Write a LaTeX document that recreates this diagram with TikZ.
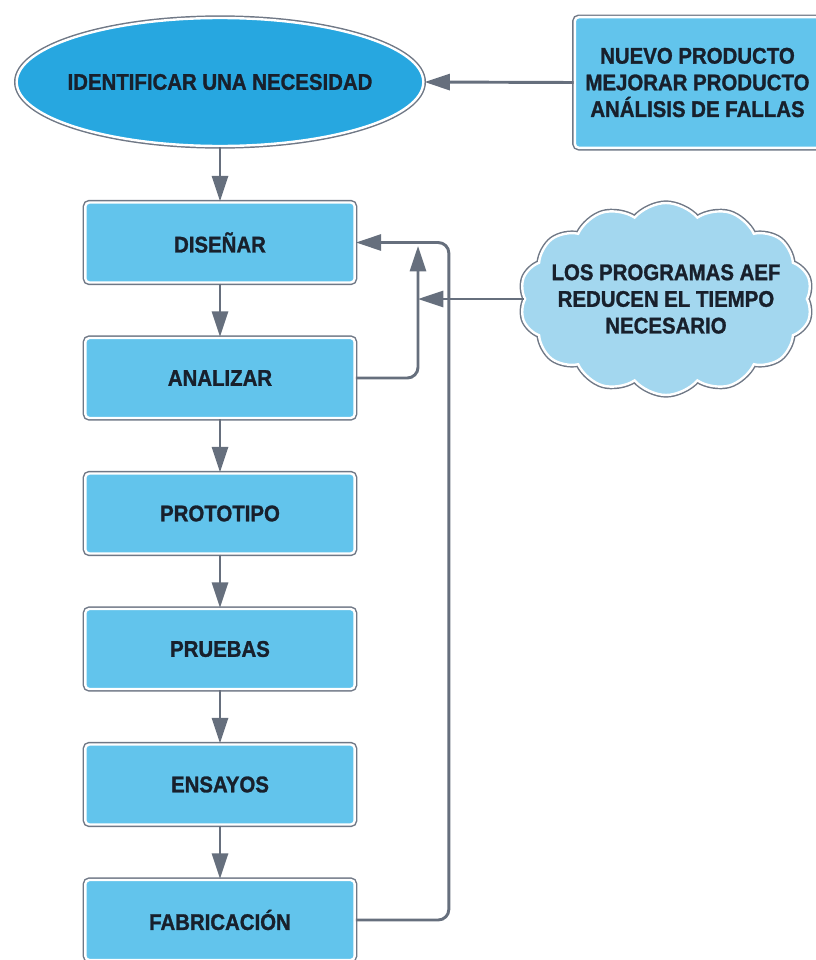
\documentclass[tikz,border=0pt]{standalone}
\usepackage{fontspec}
\setmainfont{Liberation Sans}[FakeStretch=0.9]
\newfontfamily\rotulo{Liberation Sans Bold}[FakeStretch=0.9, FakeBold=1.2]
\usetikzlibrary{arrows.meta,shapes.geometric,shapes.symbols}

\definecolor{cajaazul}{HTML}{62C4EC}
\definecolor{elipseazul}{HTML}{27A7E0}
\definecolor{nubeazul}{HTML}{A3D7EF}
\definecolor{borde}{HTML}{6F7886}
\definecolor{flechagris}{HTML}{666F7D}
\definecolor{texto}{HTML}{18202C}

\tikzset{
  marco/.style={preaction={draw=borde, line width=4pt}, draw=white, line width=1.8pt},
  caja/.style={marco, rectangle, rounded corners=3pt, fill=cajaazul,
    minimum width=202pt, minimum height=60pt, inner sep=0pt},
  etiqueta/.style={font=\rotulo\fontsize{17}{20}\selectfont, text=texto, align=center},
  flecha/.style={draw=flechagris, line width=2.2pt, -{Triangle[width=12pt,length=19pt]}},
}

\begin{document}
\begin{tikzpicture}[x=0.75pt,y=-0.75pt]
\useasboundingbox (0,0) rectangle (815,960);

    % inicio del proceso
    \node[marco, ellipse, fill=elipseazul, minimum width=305pt, minimum height=96pt,
      inner xsep=-8pt, inner ysep=0pt, etiqueta] (ident) at (220,82) {IDENTIFICAR UNA NECESIDAD};

    % motivos
    \node[caja, etiqueta, minimum width=184pt, minimum height=98pt] (fuente) at (697.5,82.5)
      {NUEVO PRODUCTO\\MEJORAR PRODUCTO\\ANÁLISIS DE FALLAS};

    % etapas
    \node[caja, etiqueta] (disenar) at (220,242.5) {DISEÑAR};
    \node[caja, etiqueta] (analizar) at (220,378) {ANALIZAR};
    \node[caja, etiqueta] (prototipo) at (220,513.5) {PROTOTIPO};
    \node[caja, etiqueta] (pruebas) at (220,649) {PRUEBAS};
    \node[caja, etiqueta] (ensayos) at (220,784.5) {ENSAYOS};
    \node[caja, etiqueta] (fabricacion) at (220,920) {FABRICACIÓN};

    % nota sobre AEF
    \node[marco, cloud, cloud puffs=14, cloud puff arc=100, cloud ignores aspect, fill=nubeazul,
      minimum width=219pt, minimum height=144pt, inner xsep=-14pt, inner ysep=-6pt,
      etiqueta] (nube) at (666,299)
      {LOS PROGRAMAS AEF\\REDUCEN EL TIEMPO\\NECESARIO};

    % flujo principal
    \draw[flecha] (fuente.west) -- (ident.east);
    \draw[flecha] (ident.south) -- (disenar.north);
    \draw[flecha] (disenar) -- (analizar);
    \draw[flecha] (analizar) -- (prototipo);
    \draw[flecha] (prototipo) -- (pruebas);
    \draw[flecha] (pruebas) -- (ensayos);
    \draw[flecha] (ensayos) -- (fabricacion);

    % retornos
    \coordinate (junta) at (418,246);
    \draw[flecha, rounded corners=8pt] (fabricacion.east) -- ++(93,0) |- (disenar.east);
    \draw[flecha, rounded corners=8pt] (analizar.east) -| (junta);
    \draw[flecha] (nube.west) -- (nube.west -| junta);

\end{tikzpicture}
\end{document}
